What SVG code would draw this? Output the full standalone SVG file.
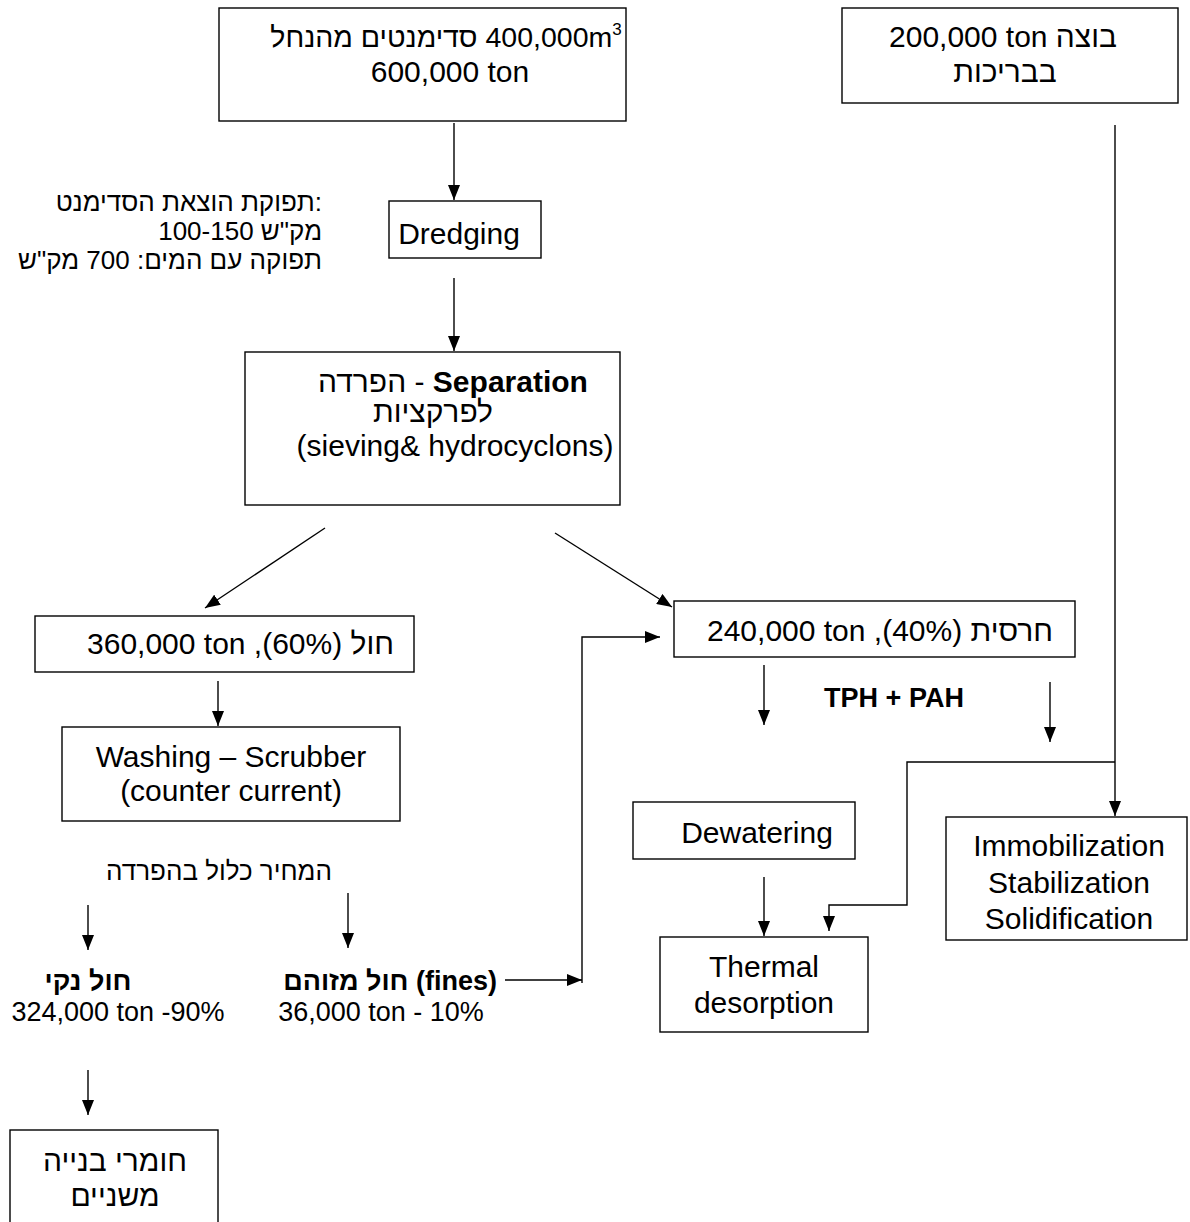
<svg xmlns="http://www.w3.org/2000/svg" width="1190" height="1222" viewBox="0 0 1190 1222">
<style>
.bx{fill:none;stroke:#000;stroke-width:1.4}
.ln{fill:none;stroke:#000;stroke-width:1.4}
.t{font-family:"Liberation Sans","DejaVu Sans",sans-serif;font-size:30px;fill:#000}
.s{font-size:27px}
.n{font-size:26px}
.h{font-size:28.5px}
.sup{font-size:17px}
.b{font-weight:bold}
</style>
<defs>
<marker id="ah" markerUnits="userSpaceOnUse" markerWidth="15" markerHeight="12" refX="15" refY="6" orient="auto">
<path d="M0,0 L15,6 L0,12 z" fill="#000"/>
</marker>
</defs>
<rect width="1190" height="1222" fill="#fff"/>

<g id="connectors">
<line class="ln" x1="454" y1="123" x2="454" y2="200" marker-end="url(#ah)"/>
<line class="ln" x1="454" y1="278" x2="454" y2="351" marker-end="url(#ah)"/>
<line class="ln" x1="325" y1="528" x2="205" y2="608" marker-end="url(#ah)"/>
<line class="ln" x1="555" y1="533" x2="672" y2="607" marker-end="url(#ah)"/>
<line class="ln" x1="218" y1="681" x2="218" y2="726" marker-end="url(#ah)"/>
<line class="ln" x1="764" y1="665" x2="764" y2="725" marker-end="url(#ah)"/>
<line class="ln" x1="1050" y1="682" x2="1050" y2="742" marker-end="url(#ah)"/>
<line class="ln" x1="1115" y1="125" x2="1115" y2="816" marker-end="url(#ah)"/>
<polyline class="ln" points="1115,762 907,762 907,905 829,905 829,931" marker-end="url(#ah)"/>
<line class="ln" x1="764" y1="877" x2="764" y2="936" marker-end="url(#ah)"/>
<polyline class="ln" points="582,983 582,637 660,637" marker-end="url(#ah)"/>
<line class="ln" x1="505" y1="980" x2="582" y2="980" marker-end="url(#ah)"/>
<line class="ln" x1="88" y1="905" x2="88" y2="950" marker-end="url(#ah)"/>
<line class="ln" x1="348" y1="893" x2="348" y2="948" marker-end="url(#ah)"/>
<line class="ln" x1="88" y1="1070" x2="88" y2="1115" marker-end="url(#ah)"/>
</g>

<g id="n-sediments">
<rect class="bx" x="219" y="8" width="407" height="113"/>
<text class="t h" x="446" y="47" text-anchor="middle" direction="rtl">400,000m<tspan class="sup" dy="-12">3</tspan><tspan dy="12"> סדימנטים מהנחל</tspan></text>
<text class="t" x="450" y="82" text-anchor="middle">600,000 ton</text>
</g>

<g id="n-sludge">
<rect class="bx" x="842" y="8" width="336" height="95"/>
<text class="t" x="1003" y="47" text-anchor="middle">200,000 ton בוצה</text>
<text class="t" x="1005" y="82" text-anchor="middle" direction="rtl">בבריכות</text>
</g>

<g id="note-rate">
<text class="t n" x="322" y="211" text-anchor="end">תפוקת הוצאת הסדימנט:</text>
<text class="t n" x="322" y="240" text-anchor="end">100-150 מק"ש</text>
<text class="t n" x="322" y="269" text-anchor="end">תפוקה עם המים: 700 מק"ש</text>
</g>

<g id="n-dredging">
<rect class="bx" x="389" y="201" width="152" height="57"/>
<text class="t" x="459" y="244" text-anchor="middle">Dredging</text>
</g>

<g id="n-separation">
<rect class="bx" x="245" y="352" width="375" height="153"/>
<text class="t" x="453" y="392" text-anchor="middle">הפרדה - <tspan class="b">Separation</tspan></text>
<text class="t" x="433" y="422" text-anchor="middle" direction="rtl">לפרקציות</text>
<text class="t" x="455" y="456" text-anchor="middle">(sieving&amp; hydrocyclons)</text>
</g>

<g id="n-sand">
<rect class="bx" x="35" y="616" width="379" height="56"/>
<text class="t" x="394" y="654" text-anchor="start" direction="rtl">חול (60%), &#x202A;360,000 ton&#x202C;</text>
</g>

<g id="n-washing">
<rect class="bx" x="62" y="727" width="338" height="94"/>
<text class="t" x="231" y="767" text-anchor="middle">Washing – Scrubber</text>
<text class="t" x="231" y="801" text-anchor="middle">(counter current)</text>
</g>

<g id="n-clay">
<rect class="bx" x="674" y="601" width="401" height="56"/>
<text class="t" x="1053" y="641" text-anchor="start" direction="rtl">חרסית (40%), &#x202A;240,000 ton&#x202C;</text>
</g>

<g id="label-tph">
<text class="t s b" x="894" y="707" text-anchor="middle">TPH + PAH</text>
</g>

<g id="n-dewatering">
<rect class="bx" x="633" y="802" width="222" height="57"/>
<text class="t" x="757" y="843" text-anchor="middle">Dewatering</text>
</g>

<g id="n-thermal">
<rect class="bx" x="660" y="937" width="208" height="95"/>
<text class="t" x="764" y="977" text-anchor="middle">Thermal</text>
<text class="t" x="764" y="1013" text-anchor="middle">desorption</text>
</g>

<g id="n-immob">
<rect class="bx" x="946" y="817" width="241" height="123"/>
<text class="t" x="1069" y="856" text-anchor="middle">Immobilization</text>
<text class="t" x="1069" y="893" text-anchor="middle">Stabilization</text>
<text class="t" x="1069" y="929" text-anchor="middle">Solidification</text>
</g>

<g id="note-price">
<text class="t n" x="219" y="880" text-anchor="middle" direction="rtl">המחיר כלול בהפרדה</text>
</g>

<g id="n-clean-sand">
<text class="t s b" x="88" y="990" text-anchor="middle" direction="rtl">חול נקי</text>
<text class="t s" x="118" y="1021" text-anchor="middle">324,000 ton -90%</text>
</g>

<g id="n-fines">
<text class="t s b" x="497" y="990" text-anchor="end">חול מזוהם (fines)</text>
<text class="t s" x="381" y="1021" text-anchor="middle">36,000 ton - 10%</text>
</g>

<g id="n-building">
<rect class="bx" x="10" y="1130" width="208" height="100"/>
<text class="t" x="115" y="1171" text-anchor="middle" direction="rtl">חומרי בנייה</text>
<text class="t" x="115" y="1206" text-anchor="middle" direction="rtl">משניים</text>
</g>
</svg>
